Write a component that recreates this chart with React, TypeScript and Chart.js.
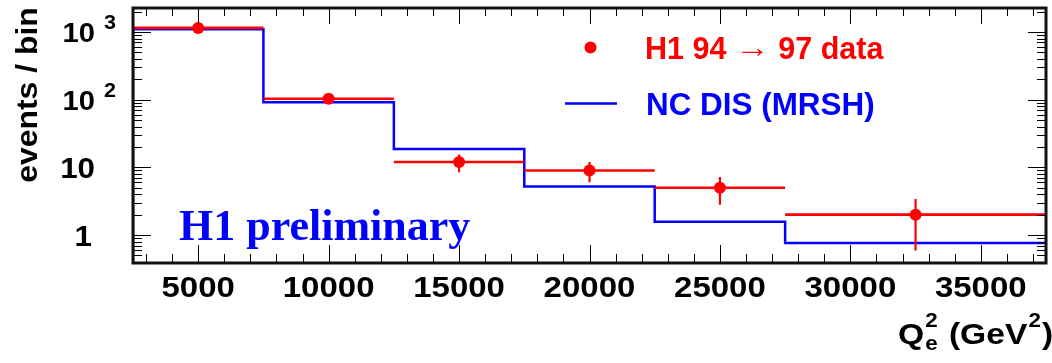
import React, { useEffect, useRef } from "react";
import { Chart, registerables } from "chart.js";
Chart.register(...registerables);

// ---- data ----
const binLow = [2500, 7500, 12500, 17500, 22500, 27500];
const binHigh = [7500, 12500, 17500, 22500, 27500, 37500];
const binCenter = [5000, 10000, 15000, 20000, 25000, 32500];
const dataValues = [1150, 103, 12, 9, 5, 2];
const dataErrLow = [1116, 93, 8.5, 6, 2.8, 0.59];
const dataErrHigh = [1184, 113, 15.5, 12, 7.2, 3.4];
const mcValues = [1100, 92, 18.7, 5.2, 1.57, 0.76];
const xTickLabels = [5000, 10000, 15000, 20000, 25000, 30000, 35000];
const yTickValues = [1, 10, 100, 1000];
const yTickLabels = [["1", ""], ["10", ""], ["10", "2"], ["10", "3"]];
const X_MIN = 2500;
const X_MAX = 37500;
const Y_MIN = 0.386;
const Y_MAX = 2264;

const RED = "#ff0000";
const BLUE = "#0000ff";
const SANS = "'Liberation Sans', Arial, sans-serif";
const SERIF = "'Liberation Serif', 'Times New Roman', serif";

function txt(ctx: CanvasRenderingContext2D, s: string, x: number, y: number, font: string, color: string, align: CanvasTextAlign = "left", sx = 1) {
  ctx.save();
  ctx.font = font;
  ctx.fillStyle = color;
  ctx.textAlign = align;
  ctx.textBaseline = "alphabetic";
  ctx.translate(x, y);
  ctx.scale(sx, 1);
  ctx.fillText(s, 0, 0);
  ctx.restore();
}

const decorPlugin = {
  id: "decor",
  afterDatasetsDraw(chart: any) {
    const ctx: CanvasRenderingContext2D = chart.ctx;
    const { left, right, top, bottom } = chart.chartArea;
    const xs = chart.scales.x;
    const ys = chart.scales.y;
    ctx.save();
    // ticks
    ctx.strokeStyle = "#000";
    ctx.lineWidth = 1;
    ctx.beginPath();
    for (let v = 3000; v <= 37000; v += 1000) {
      const px = Math.round(xs.getPixelForValue(v)) + 0.5;
      const major = v % 5000 === 0;
      const lb = major ? 18 : 9;
      const lt = major ? 16 : 8;
      ctx.moveTo(px, bottom);
      ctx.lineTo(px, bottom - lb);
      ctx.moveTo(px, top);
      ctx.lineTo(px, top + lt);
    }
    for (let d = 0.1; d <= 1000; d *= 10) {
      for (let m = 1; m <= 9; m++) {
        const v = d * m;
        if (v < Y_MIN || v > Y_MAX) continue;
        const py = Math.round(ys.getPixelForValue(v)) + 0.5;
        const major = m === 1;
        const l = major ? 18 : 9;
        ctx.moveTo(left, py);
        ctx.lineTo(left + l, py);
        ctx.moveTo(right, py);
        ctx.lineTo(right - l, py);
      }
    }
    ctx.stroke();
    // frame
    ctx.lineWidth = 3;
    ctx.strokeStyle = "#111";
    ctx.strokeRect(left, top, right - left, bottom - top);
    ctx.restore();

    // x tick labels
    xTickLabels.forEach((v) => {
      const px = xs.getPixelForValue(v);
      txt(ctx, String(v), px, 297, `bold 30px ${SANS}`, "#000", "center", 1.1);
    });
    // y tick labels
    yTickValues.forEach((v, i) => {
      const py = ys.getPixelForValue(v);
      const [base, exp] = yTickLabels[i];
      if (exp) {
        txt(ctx, base, 95, py + 10, `bold 27px ${SANS}`, "#000", "right", 1.08);
        txt(ctx, exp, 104, py - 3, `bold 20px ${SANS}`, "#000", "left", 1.08);
      } else {
        txt(ctx, base, base === "1" ? 92 : 95, py + 11, `bold 29px ${SANS}`, "#000", "right", 1.08);
      }
    });
    // y title
    ctx.save();
    ctx.translate(37, 95);
    ctx.rotate(-Math.PI / 2);
    ctx.scale(1.1, 1);
    ctx.font = `bold 29px ${SANS}`;
    ctx.fillStyle = "#000";
    ctx.textAlign = "center";
    ctx.fillText("events / bin", 0, 0);
    ctx.restore();

    // x title
    ctx.save();
    ctx.translate(898, 344);
    ctx.scale(1.12, 1);
    let x = 0;
    ctx.fillStyle = "#000";
    ctx.font = `bold 30px ${SANS}`;
    ctx.fillText("Q", x, 0);
    x += ctx.measureText("Q").width + 1;
    ctx.font = `bold 20px ${SANS}`;
    ctx.fillText("2", x, -17);
    ctx.fillText("e", x, 6);
    x += ctx.measureText("e").width + 10;
    ctx.font = `bold 30px ${SANS}`;
    ctx.fillText("(GeV", x, 0);
    x += ctx.measureText("(GeV").width + 1;
    ctx.font = `bold 20px ${SANS}`;
    ctx.fillText("2", x, -17);
    x += ctx.measureText("2").width + 1;
    ctx.font = `bold 30px ${SANS}`;
    ctx.fillText(")", x, 0);
    ctx.restore();

    // legend
    ctx.save();
    ctx.fillStyle = RED;
    ctx.beginPath();
    ctx.arc(590.5, 47.5, 6, 0, Math.PI * 2);
    ctx.fill();
    let lx = 645;
    ctx.font = `bold 30.5px ${SANS}`;
    ctx.fillText("H1 94 ", lx, 59);
    lx += ctx.measureText("H1 94 ").width;
    ctx.save();
    ctx.translate(lx, 57);
    ctx.scale(1.25, 1);
    ctx.font = `28px ${SANS}`;
    ctx.fillText("\u2192", 0, 0);
    lx += ctx.measureText("\u2192").width * 1.25;
    ctx.restore();
    ctx.font = `bold 30.5px ${SANS}`;
    ctx.fillText(" 97 data", lx, 59);
    ctx.strokeStyle = BLUE;
    ctx.lineWidth = 2.5;
    ctx.beginPath();
    ctx.moveTo(565, 103.5);
    ctx.lineTo(617, 103.5);
    ctx.stroke();
    ctx.fillStyle = BLUE;
    ctx.save();
    ctx.translate(646, 115);
    ctx.scale(1.03, 1);
    ctx.fillText("NC DIS (MRSH)", 0, 0);
    ctx.restore();
    ctx.restore();

    // H1 preliminary
    txt(ctx, "H1 preliminary", 179, 240, `bold 44px ${SERIF}`, BLUE, "left");
  },
};

export default function App() {
  const ref = useRef<HTMLCanvasElement>(null);
  useEffect(() => {
    document.body.style.margin = "0";
    const canvas = ref.current!;
    const histPts: any[] = [{ x: binLow[0], y: Y_MIN }];
    mcValues.forEach((v, i) => histPts.push({ x: binLow[i], y: v }));
    histPts.push({ x: binHigh[binHigh.length - 1], y: mcValues[mcValues.length - 1] });
    const hBars: any[] = [];
    dataValues.forEach((v, i) => {
      hBars.push({ x: binLow[i], y: v }, { x: binHigh[i], y: v }, { x: binHigh[i], y: null });
    });
    const vBars: any[] = [];
    dataValues.forEach((v, i) => {
      vBars.push({ x: binCenter[i], y: dataErrLow[i] }, { x: binCenter[i], y: dataErrHigh[i] }, { x: binCenter[i], y: null });
    });
    const pts = dataValues.map((v, i) => ({ x: binCenter[i], y: v }));
    const chart = new Chart(canvas, {
      type: "scatter",
      data: {
        datasets: [
          { data: pts, pointRadius: 6, pointBackgroundColor: RED, pointBorderWidth: 0, showLine: false, order: 0 } as any,
          { data: vBars, showLine: true, spanGaps: false, borderColor: RED, borderWidth: 2.2, pointRadius: 0, order: 1 } as any,
          { data: hBars, showLine: true, spanGaps: false, borderColor: RED, borderWidth: 2.6, pointRadius: 0, order: 2 } as any,
          { data: histPts, showLine: true, stepped: "before", borderColor: BLUE, borderWidth: 2.5, pointRadius: 0, order: 3 } as any,
        ],
      },
      options: {
        responsive: false,
        animation: false,
        devicePixelRatio: 1,
        layout: { padding: { left: 133, top: 8, right: 3, bottom: 100 } },
        plugins: { legend: { display: false }, tooltip: { enabled: false } },
        scales: {
          x: { type: "linear", min: X_MIN, max: X_MAX, display: false },
          y: { type: "logarithmic", min: Y_MIN, max: Y_MAX, display: false },
        },
      },
      plugins: [decorPlugin],
    });
    return () => chart.destroy();
  }, []);
  return (
    <div style={{ width: 1052, height: 363, background: "#fff" }}>
      <canvas ref={ref} width={1052} height={363} />
    </div>
  );
}
